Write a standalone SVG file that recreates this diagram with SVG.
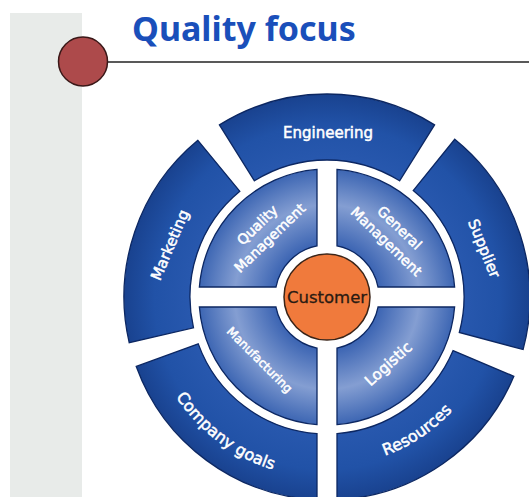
<svg xmlns="http://www.w3.org/2000/svg" width="529" height="497" viewBox="0 0 529 497">
  <defs>
    <radialGradient id="gOuter" gradientUnits="userSpaceOnUse" cx="327" cy="297" r="203">
      <stop offset="0.67" stop-color="#2858ae"/>
      <stop offset="0.85" stop-color="#2152a7"/>
      <stop offset="1" stop-color="#19428f"/>
    </radialGradient>
    <radialGradient id="gInner" gradientUnits="userSpaceOnUse" cx="327" cy="297" r="128">
      <stop offset="0.4" stop-color="#3a63b2"/>
      <stop offset="0.72" stop-color="#849ed2"/>
      <stop offset="1" stop-color="#3d66b3"/>
    </radialGradient>
    <style>
      .outer { fill: url(#gOuter); stroke: #0c2762; stroke-width: 1.3; }
      .inner { fill: url(#gInner); stroke: #0c2762; stroke-width: 1.3; }
      .lbl { font-family: "DejaVu Sans", "Liberation Sans", sans-serif; fill: #ffffff; stroke: #ffffff; stroke-width: 0.5; text-anchor: middle; }
      .title { font-family: "Noto Sans", "DejaVu Sans", sans-serif; font-weight: bold; font-size: 34px; fill: #1a4fba; }
    </style>
  </defs>

  <rect x="0" y="0" width="529" height="497" fill="#ffffff"/>

  <g id="decor">
    <rect x="10" y="13" width="72" height="484" fill="#e8ebe9"/>
    <line x1="107" y1="62" x2="529" y2="62" stroke="#222222" stroke-width="1.4"/>
    <circle cx="83" cy="61.5" r="24.5" fill="#ad4a4b" stroke="#3a1818" stroke-width="1.5"/>
  </g>

  <g id="title">
    <text class="title" x="132" y="41">Quality focus</text>
  </g>

  <g id="connectors"/>

  <g id="engineering">
    <path class="outer" d="M 219.43 124.86 A 203 203 0 0 1 434.57 124.86 L 399.60 180.82 A 137 137 0 0 0 254.40 180.82 Z"/>
    <text class="lbl" x="328" y="138" font-size="15">Engineering</text>
  </g>

  <g id="supplier">
    <path class="outer" d="M 454.75 139.25 A 203 203 0 0 1 523.08 349.54 L 459.33 332.46 A 137 137 0 0 0 413.22 190.54 Z"/>
    <text class="lbl" font-size="15" transform="translate(479.4 250.4) rotate(68)">Supplier</text>
  </g>

  <g id="resources">
    <path class="outer" d="M 513.86 376.31 A 203 203 0 0 1 337 499.75 L 337 433.63 A 137 137 0 0 0 453.11 350.53 Z"/>
    <path id="pRes" d="M 324.05 465.97 A 169 169 0 0 0 484.78 357.57" fill="none"/>
    <text class="lbl" font-size="16"><textPath href="#pRes" startOffset="50%">Resources</textPath></text>
  </g>

  <g id="company-goals">
    <path class="outer" d="M 317 499.75 A 203 203 0 0 1 136.24 366.43 L 198.26 343.85 A 137 137 0 0 0 317 433.63 Z"/>
    <path id="pComp" d="M 154.85 352.93 A 181 181 0 0 0 320.68 477.89" fill="none"/>
    <text class="lbl" font-size="16"><textPath href="#pComp" startOffset="50%">Company goals</textPath></text>
  </g>

  <g id="marketing">
    <path class="outer" d="M 129.20 342.68 A 203 203 0 0 1 197.87 140.37 L 239.85 191.29 A 137 137 0 0 0 193.51 327.83 Z"/>
    <text class="lbl" font-size="15" transform="translate(174.5 247) rotate(-67)">Marketing</text>
  </g>

  <g id="quality-management">
    <path class="inner" d="M 199.39 287 A 128 128 0 0 1 317 169.39 L 317 245.97 A 52 52 0 0 0 275.97 287 Z"/>
    <g transform="translate(263.5 231.5) rotate(-44)">
      <text class="lbl" font-size="14" x="0" y="-4">Quality</text>
      <text class="lbl" font-size="14" x="0" y="14">Management</text>
    </g>
  </g>

  <g id="general-management">
    <path class="inner" d="M 337 169.39 A 128 128 0 0 1 454.61 287 L 378.03 287 A 52 52 0 0 0 337 245.97 Z"/>
    <g transform="translate(393 234.5) rotate(44)">
      <text class="lbl" font-size="14" x="0" y="-4.5">General</text>
      <text class="lbl" font-size="14" x="0" y="14.5">Management</text>
    </g>
  </g>

  <g id="logistic">
    <path class="inner" d="M 454.61 307 A 128 128 0 0 1 337 424.61 L 337 348.03 A 52 52 0 0 0 378.03 307 Z"/>
    <text class="lbl" font-size="15" transform="translate(391.8 367.7) rotate(-42)">Logistic</text>
  </g>

  <g id="manufacturing">
    <path class="inner" d="M 317 424.61 A 128 128 0 0 1 199.39 307 L 275.97 307 A 52 52 0 0 0 317 348.03 Z"/>
    <text class="lbl" font-size="12" transform="translate(256.7 362.8) rotate(45)">Manufacturing</text>
  </g>

  <g id="customer">
    <circle cx="327" cy="297" r="43" fill="#f07a3c" stroke="#3a2418" stroke-width="1.5"/>
    <text x="327" y="303" font-family="DejaVu Sans, Liberation Sans, sans-serif" font-size="16.5" fill="#2a1a12" stroke="#2a1a12" stroke-width="0.3" text-anchor="middle">Customer</text>
  </g>
</svg>
